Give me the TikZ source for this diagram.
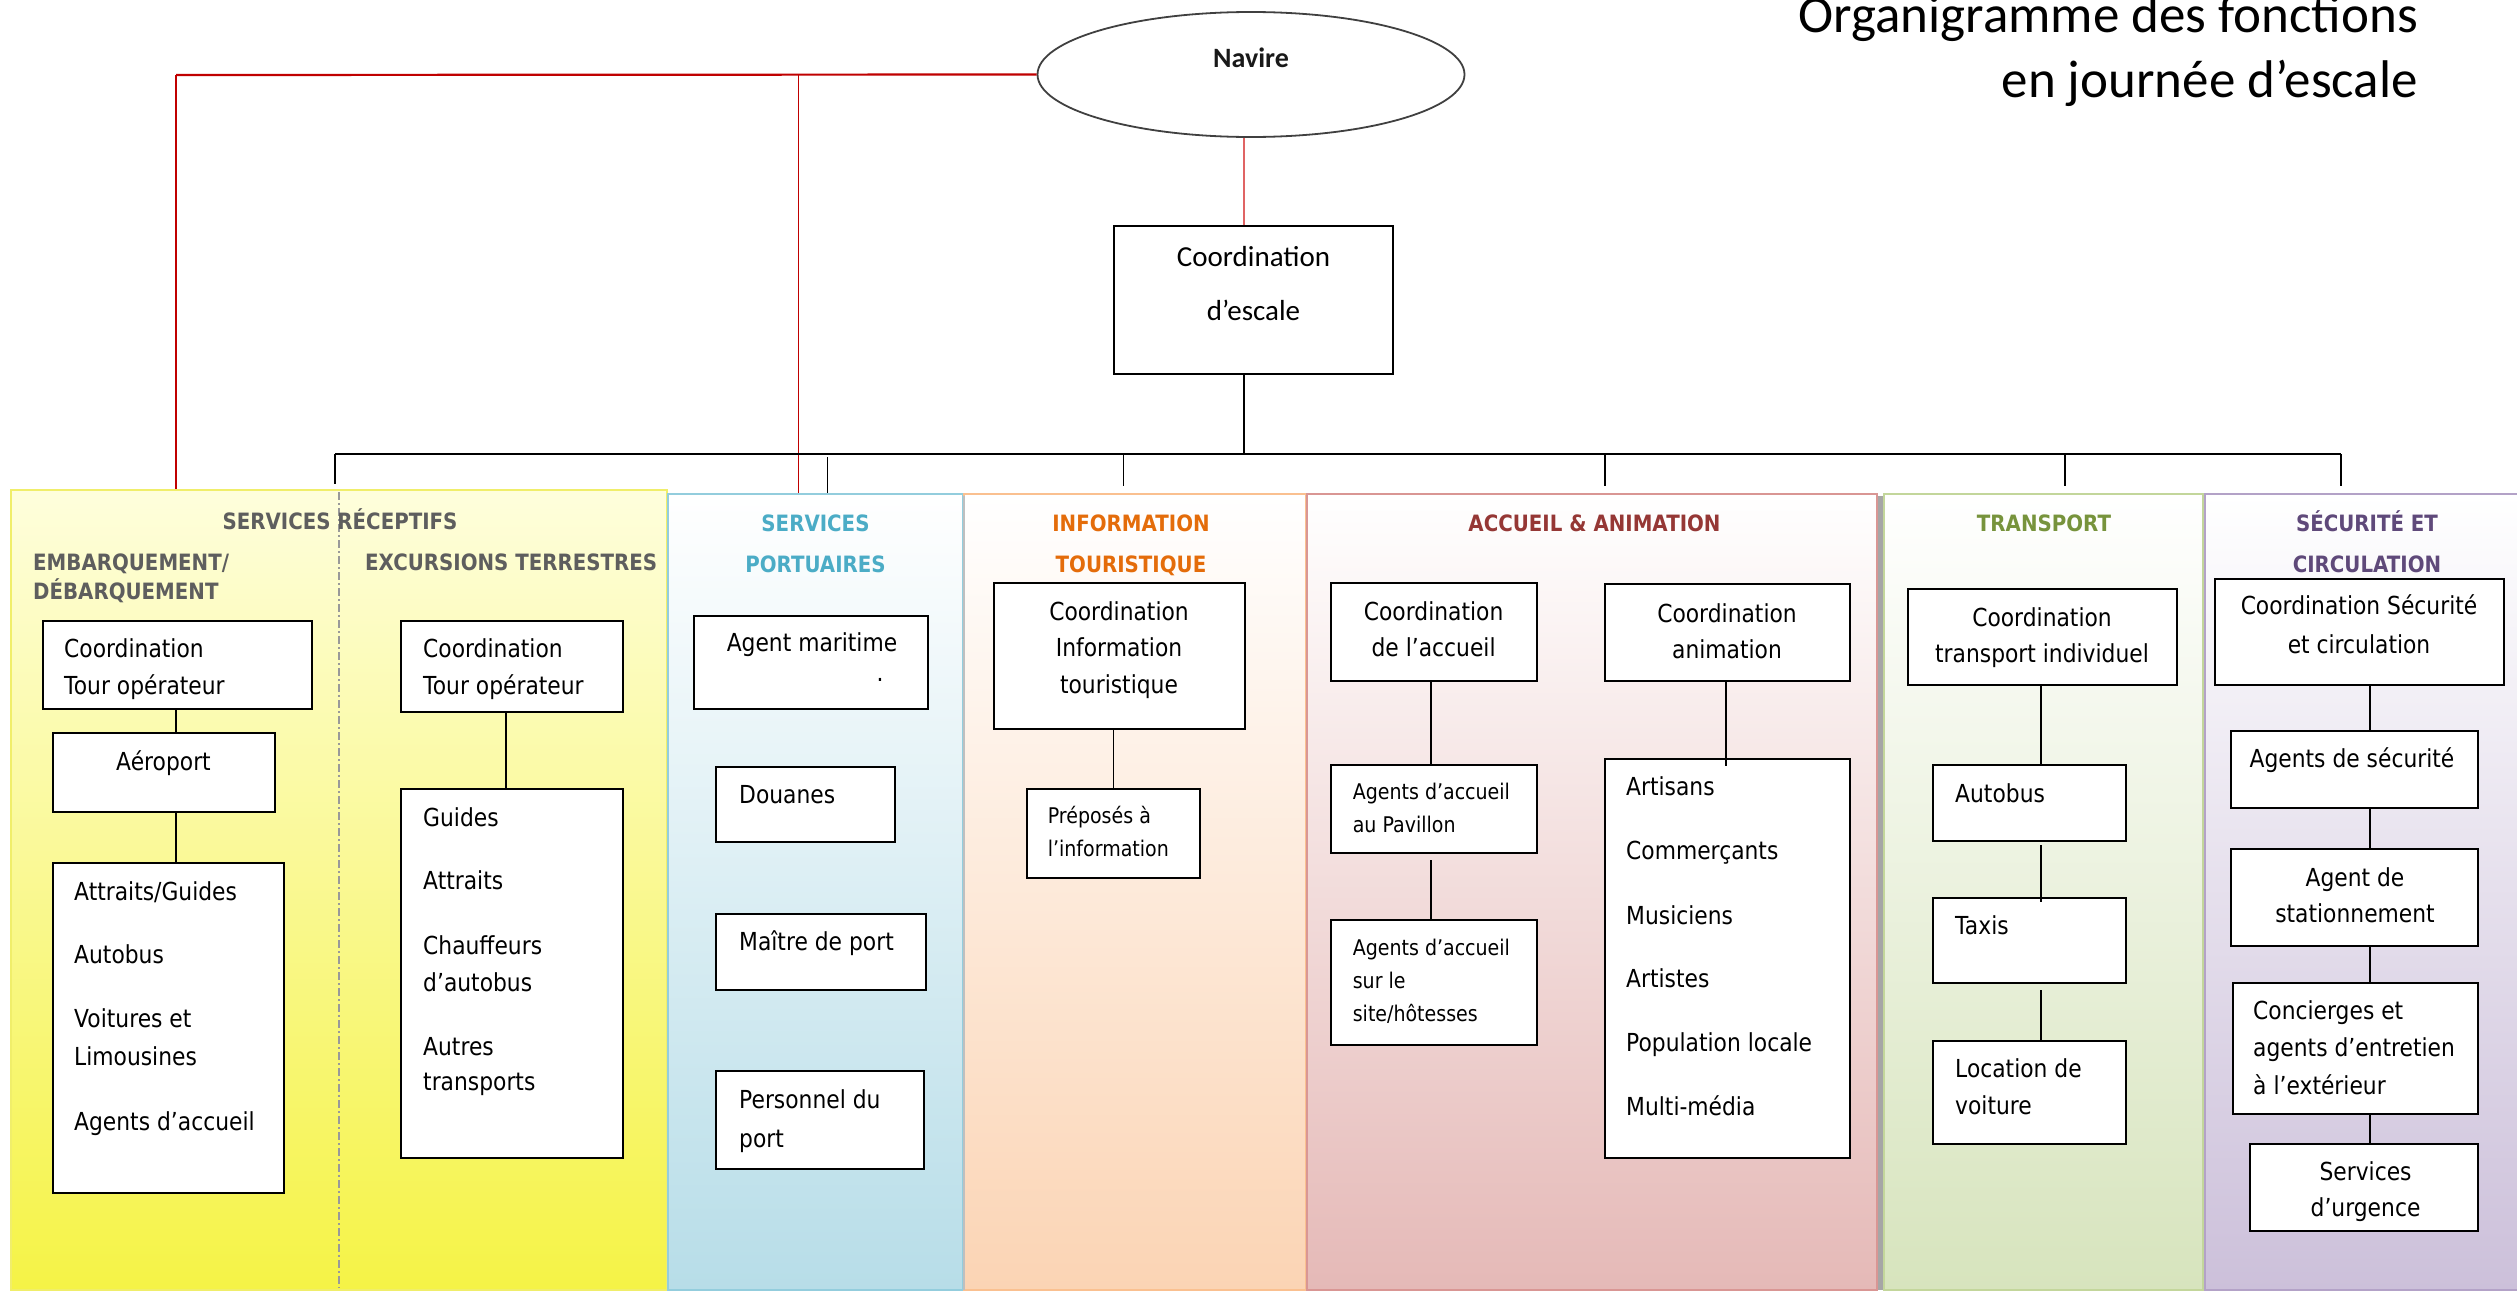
\documentclass[tikz,border=0pt]{standalone}
\usepackage{fontspec}
\setmainfont{Carlito}
\newfontfamily\tah[FakeStretch=0.88]{DejaVu Sans}
\usetikzlibrary{shapes.geometric}
\definecolor{hgray}{HTML}{5E5E5E}
\definecolor{hblue}{HTML}{4BACC6}
\definecolor{horange}{HTML}{E46C0A}
\definecolor{hred}{HTML}{953735}
\definecolor{hgreen}{HTML}{77933C}
\definecolor{hpurple}{HTML}{5F497A}
\definecolor{yTop}{HTML}{FEFEDC}
\definecolor{yBot}{HTML}{F5F346}
\definecolor{yBrd}{HTML}{F0EE6A}
\definecolor{bBot}{HTML}{B7DDE8}
\definecolor{bBrd}{HTML}{93CDDD}
\definecolor{oBot}{HTML}{FBD4B4}
\definecolor{oBrd}{HTML}{FAC090}
\definecolor{pBot}{HTML}{E5B9B7}
\definecolor{pBrd}{HTML}{D99694}
\definecolor{gBot}{HTML}{D7E4BD}
\definecolor{gBrd}{HTML}{C3D69B}
\definecolor{uBot}{HTML}{CCC0DA}
\definecolor{uBrd}{HTML}{B3A2C7}
\definecolor{redA}{HTML}{C00000}
\definecolor{redB}{HTML}{E06464}
\newcommand\bx[6][]{\node[boxst,#1,minimum width={(#5-#3)*1pt},minimum height={(#6-#4)*1pt}] (#2) at ({(#3+#5)/2},{(#4+#6)/2}) {};}
\newcommand\pnl[8]{\node[panelst,draw=#8,top color=#6,bottom color=#7,minimum width={(#4-#2)*1pt},minimum height={(#5-#3)*1pt}] (#1) at ({(#2+#4)/2},{(#3+#5)/2}) {};}
\newcommand\txtlines[5]{\foreach \ly/\lt [count=\li] in {#5}{\node[#4,anchor=#2] (#1-\li) at (#3,\ly) {\lt};}}
\begin{document}
\begin{tikzpicture}[x=1pt,y=-1pt,
  boxst/.style={rectangle,draw=black,line width=2pt,fill=white,inner sep=0pt},
  panelst/.style={rectangle,line width=2.5pt,inner sep=0pt},
  bt/.style={font=\tah\fontsize{24.8}{30}\selectfont,inner sep=0pt,text=black},
  st/.style={font=\tah\fontsize{21.6}{26}\selectfont,inner sep=0pt,text=black},
  hd/.style={font=\tah\bfseries\fontsize{22.5}{27}\selectfont,inner sep=0pt},
  cb/.style={font=\fontsize{29}{34}\selectfont,inner sep=0pt,text=black},
  conn/.style={draw=black,line width=1.8pt},
  redl/.style={draw=redA,line width=2.2pt},
  redv/.style={draw=redA,line width=1.6pt},
  redc/.style={draw=redB,line width=1.8pt}]
\useasboundingbox (0,0) rectangle (2517,1293);
\fill[white] (0,0) rectangle (2517,1293);
% panels
\pnl{yel}{11}{490}{667}{1290}{yTop}{yBot}{yBrd}
\pnl{blu}{668}{494}{963}{1290}{white}{bBot}{bBrd}
\pnl{ora}{964}{494}{1306}{1290}{white}{oBot}{oBrd}
\pnl{pnk}{1307}{494}{1877}{1290}{white}{pBot}{pBrd}
\pnl{grn}{1884}{494}{2203}{1290}{white}{gBot}{gBrd}
\pnl{pur}{2205}{494}{2530}{1290}{white}{uBot}{uBrd}
\fill[black!35] (1878,496) rectangle (1883,1290);
\fill[black!25] (963,496) rectangle (965,1290);
\draw[black!40,line width=1.2pt,dash pattern=on 8pt off 3pt on 2pt off 3pt] (339,492) -- (339,1288);
% top
\node[ellipse,draw=black!75,line width=1.8pt,fill=white,minimum width=427pt,minimum height=125pt,inner sep=0pt] (nav) at (1251,74.5) {};
\node[font=\bfseries\fontsize{28}{32}\selectfont,text=black!90,anchor=base,inner sep=0pt] (navlbl) at (1251,67) {Navire};
\bx{coord}{1114}{226}{1393}{374}
\txtlines{coordt}{base}{1253.5}{cb}{266/{Coordination},320/{d’escale}}
\node[font=\fontsize{53}{64}\selectfont,anchor=base east,inner sep=0pt,text=black] (title1) at (2418,32) {Organigramme des fonctions};
\node[font=\fontsize{53}{64}\selectfont,anchor=base east,inner sep=0pt,text=black] (title2) at (2418,97) {en journée d’escale};
% red links
\coordinate (rl) at (176,75);
\coordinate (rm) at (798.5,75);
\coordinate (rc) at (1244,0);
\draw[redl] (nav.west) -- (rl);
\draw[redv] (rl) -- (rl |- yel.north);
\draw[redv] (rm) -- (rm |- blu.north);
\draw[redc] (rc |- nav.south) -- (rc |- coord.north);
% black bus
\coordinate (bus) at (1244,454);
\coordinate (d1) at (335,454);
\coordinate (d2) at (827.5,457);
\coordinate (d3) at (1123.5,454);
\coordinate (d4) at (1605,454);
\coordinate (d5) at (2065,454);
\coordinate (d6) at (2341,454);
\draw[conn] (rc |- coord.south) -- (bus);
\draw[draw=black,line width=2.4pt] (d1) -- (d6);
\draw[conn] (d1) -- (335,484);
\draw[conn] (d2) -- (d2 |- blu.north);
\draw[conn] (d3) -- (1123.5,486);
\draw[conn] (d4) -- (1605,486);
\draw[conn] (d5) -- (2065,486);
\draw[conn] (d6) -- (2341,486);
% panel 1
\txtlines{hsr}{base}{340}{hd,text=hgray}{529/{SERVICES RÉCEPTIFS}}
\txtlines{hem}{base west}{33}{hd,text=hgray}{570/{EMBARQUEMENT/},599/{DÉBARQUEMENT}}
\txtlines{hex}{base west}{365}{hd,text=hgray}{570/{EXCURSIONS TERRESTRES}}
\bx{bA}{43}{621}{312}{709}
\bx{aero}{53}{733}{275}{812}
\bx{attr}{53}{863}{284}{1193}
\bx{bB}{401}{621}{623}{712}
\bx{guid}{401}{789}{623}{1158}
\txtlines{bAt}{base west}{64}{bt}{657/{Coordination},694/{Tour opérateur}}
\txtlines{aerot}{base}{163.5}{bt}{770/{Aéroport}}
\txtlines{attrt}{base west}{74}{bt}{900.5/{Attraits/Guides},963/{Autobus},1027.5/{Voitures et},1065/{Limousines},1130/{Agents d’accueil}}
\txtlines{bBt}{base west}{423}{bt}{657/{Coordination},694/{Tour opérateur}}
\txtlines{guidt}{base west}{423}{bt}{826.5/{Guides},889.5/{Attraits},954/{Chauffeurs},991/{d’autobus},1055/{Autres},1090.5/{transports}}
\coordinate (sA) at (176,0);
\coordinate (sB) at (506,0);
\draw[conn] (sA |- bA.south) -- (sA |- aero.north);
\draw[conn] (sA |- aero.south) -- (sA |- attr.north);
\draw[conn] (sB |- bB.south) -- (sB |- guid.north);
% panel 2
\txtlines{hsp}{base}{815.5}{hd,text=hblue}{531/{SERVICES},572/{PORTUAIRES}}
\bx{agm}{694}{616}{928}{709}
\bx{dou}{716}{767}{895}{842}
\bx{mai}{716}{914}{926}{990}
\bx{per}{716}{1071}{924}{1169}
\txtlines{agmt}{base}{812}{bt}{651/{Agent maritime}}
\node[bt,anchor=base] (agmdot) at (880,681) {.};
\txtlines{dout}{base west}{739}{bt}{803/{Douanes}}
\txtlines{mait}{base west}{739}{bt}{950/{Maître de port}}
\txtlines{pert}{base west}{739}{bt}{1108/{Personnel du},1147/{port}}
% panel 3
\txtlines{hit}{base}{1131}{hd,text=horange}{531/{INFORMATION},572/{TOURISTIQUE}}
\bx{cit}{994}{583}{1245}{729}
\bx{pre}{1027}{789}{1200}{878}
\txtlines{citt}{base}{1119}{bt}{620/{Coordination},656/{Information},693/{touristique}}
\txtlines{pret}{base west}{1047.6}{st}{823/{Préposés à},856/{l’information}}
\draw[conn] (pre.north |- cit.south) -- (pre.north);
% panel 4
\txtlines{haa}{base}{1594.5}{hd,text=hred}{531/{ACCUEIL \& ANIMATION}}
\bx{ca}{1331}{583}{1536.5}{681}
\bx{pav}{1331}{765}{1536.5}{853}
\bx{site}{1331}{920}{1536.5}{1045}
\bx{can}{1604.5}{584}{1849.6}{681}
\bx{art}{1604.5}{759}{1849.6}{1158}
\txtlines{cat}{base}{1433.6}{bt}{620/{Coordination},656.5/{de l’accueil}}
\txtlines{pavt}{base west}{1352.6}{st}{799/{Agents d’accueil},832/{au Pavillon}}
\txtlines{sitet}{base west}{1352.6}{st}{955.7/{Agents d’accueil},988/{sur le},1021/{site/hôtesses}}
\txtlines{cant}{base}{1727}{bt}{622/{Coordination},658.5/{animation}}
\txtlines{artt}{base west}{1626}{bt}{795.5/{Artisans},859.6/{Commerçants},924/{Musiciens},987/{Artistes},1051/{Population locale},1115/{Multi-média}}
\coordinate (sC) at (1431,0);
\coordinate (sD) at (1726,0);
\draw[conn] (sC |- ca.south) -- (sC |- pav.north);
\draw[conn] ([yshift=-6pt]sC |- pav.south) -- (sC |- site.north);
\draw[conn] (sD |- can.south) -- ([yshift=-8pt]sD |- art.north);
% panel 5
\txtlines{htr}{base}{2044}{hd,text=hgreen}{531/{TRANSPORT}}
\bx{ct}{1908}{589}{2176.7}{685}
\bx{bus2}{1933}{765}{2125.6}{841}
\bx{tax}{1933}{898}{2125.6}{983}
\bx{loc}{1933}{1040.6}{2125.6}{1143.5}
\txtlines{ctt}{base}{2042}{bt}{626/{Coordination},662.7/{transport individuel}}
\txtlines{bust}{base west}{1955}{bt}{802/{Autobus}}
\txtlines{taxt}{base west}{1955}{bt}{934.6/{Taxis}}
\txtlines{loct}{base west}{1955}{bt}{1077/{Location de},1114/{voiture}}
\coordinate (sE) at (2041,0);
\draw[conn] (sE |- ct.south) -- (sE |- bus2.north);
\draw[conn] ([yshift=-3pt]sE |- bus2.south) -- ([yshift=-5pt]sE |- tax.north);
\draw[conn] ([yshift=-6pt]sE |- tax.south) -- (sE |- loc.north);
% panel 6
\txtlines{hsc}{base}{2367}{hd,text=hpurple}{531/{SÉCURITÉ ET},572/{CIRCULATION}}
\bx{cs}{2215}{579}{2504}{685}
\bx{ags}{2230.7}{731.4}{2478}{807.5}
\bx{sta}{2230.7}{849}{2478}{946}
\bx{con}{2233}{983.4}{2478}{1114}
\bx{urg}{2250}{1143.5}{2478}{1231}
\txtlines{cst}{base}{2359}{bt}{614/{Coordination Sécurité},653/{et circulation}}
\txtlines{agst}{base}{2352}{bt}{767.7/{Agents de sécurité}}
\txtlines{stat}{base}{2355}{bt}{886/{Agent de},922.6/{stationnement}}
\txtlines{cont}{base west}{2253}{bt}{1019.7/{Concierges et},1056.4/{agents d’entretien},1094/{à l’extérieur}}
\txtlines{urgt}{base}{2365.5}{bt}{1180.8/{Services},1216.5/{d’urgence}}
\coordinate (sF) at (2370,0);
\draw[conn] (sF |- cs.south) -- (sF |- ags.north);
\draw[conn] (sF |- ags.south) -- (sF |- sta.north);
\draw[conn] (sF |- sta.south) -- (sF |- con.north);
\draw[conn] (sF |- con.south) -- (sF |- urg.north);
\end{tikzpicture}
\end{document}
